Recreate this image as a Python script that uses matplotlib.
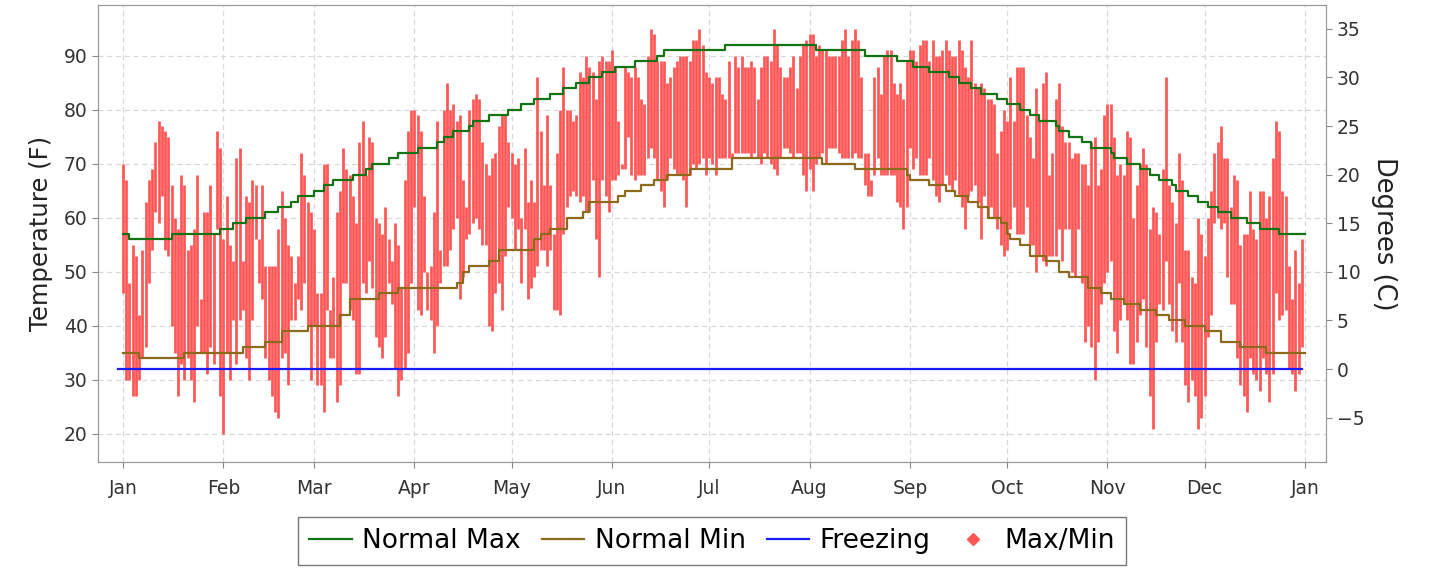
'''Daily max/min temperatures against normals, with a Celsius twin axis'''

import numpy as np
import matplotlib
matplotlib.use('Agg')
import matplotlib.pyplot as plt
from matplotlib.lines import Line2D

months = ['Jan', 'Feb', 'Mar', 'Apr', 'May', 'Jun', 'Jul', 'Aug', 'Sep',
          'Oct', 'Nov', 'Dec', 'Jan']
month_starts = [0, 31, 59, 90, 120, 151, 181, 212, 243, 273, 304, 334, 365]

# daily highs / lows (F)
jan_hi = [70, 67, 48, 55, 53, 42, 54, 63, 67, 69, 74, 78, 77, 76, 75, 66, 60, 58, 68, 66,
          54, 55, 58, 68, 45, 61, 61, 66, 57, 76, 73]
jan_lo = [46, 30, 30, 27, 27, 30, 34, 36, 48, 54, 61, 59, 64, 54, 53, 40, 35, 27, 33, 30,
          34, 30, 26, 40, 35, 35, 31, 36, 33, 58, 27]
feb_hi = [56, 64, 55, 52, 71, 73, 52, 64, 63, 67, 66, 56, 66, 51, 51, 51, 51, 58, 65, 60,
          55, 53, 48, 53, 72, 68, 63, 61]
feb_lo = [20, 35, 30, 41, 33, 41, 43, 34, 30, 41, 56, 48, 45, 34, 30, 27, 24, 23, 34, 35,
          29, 41, 41, 45, 43, 48, 40, 30]
mar_hi = [58, 46, 46, 70, 70, 43, 49, 61, 65, 73, 69, 68, 64, 59, 74, 78, 68, 75, 74, 60,
          59, 57, 62, 56, 52, 59, 55, 47, 67, 76, 80]
mar_lo = [40, 29, 29, 24, 43, 34, 34, 26, 29, 48, 48, 43, 41, 31, 31, 48, 46, 52, 47, 38,
          36, 34, 38, 48, 44, 32, 27, 30, 32, 35, 48]
apr_hi = [80, 79, 76, 64, 50, 51, 61, 78, 54, 80, 85, 80, 81, 78, 79, 67, 62, 80, 82, 83,
          82, 74, 70, 68, 71, 72, 77, 79, 79, 74]
apr_lo = [62, 43, 42, 50, 43, 41, 35, 40, 48, 51, 51, 54, 58, 60, 45, 49, 56, 57, 59, 60,
          58, 55, 55, 40, 39, 46, 48, 43, 53, 62]
may_hi = [72, 70, 71, 60, 73, 63, 67, 63, 86, 76, 66, 79, 66, 57, 72, 80, 88, 80, 80, 78,
          79, 87, 86, 90, 88, 87, 82, 89, 90, 89, 89]
may_lo = [60, 54, 58, 48, 58, 45, 47, 49, 51, 54, 54, 51, 54, 43, 43, 42, 57, 62, 64, 65,
          64, 63, 64, 61, 61, 67, 56, 49, 67, 64, 61]
jun_hi = [91, 88, 78, 69, 88, 87, 86, 88, 86, 82, 81, 90, 95, 94, 89, 89, 89, 85, 86, 88,
          89, 90, 90, 90, 89, 93, 93, 95, 92, 87]
jun_lo = [67, 67, 68, 70, 69, 75, 68, 67, 68, 68, 68, 71, 73, 71, 67, 65, 62, 67, 71, 69,
          68, 68, 67, 62, 68, 70, 69, 70, 71, 68]
jul_hi = [86, 85, 86, 86, 83, 82, 89, 72, 90, 88, 90, 88, 88, 89, 88, 82, 88, 90, 90, 89,
          95, 92, 88, 86, 86, 88, 90, 84, 90, 92, 93]
jul_lo = [71, 70, 68, 71, 71, 71, 71, 71, 72, 72, 72, 72, 72, 71, 72, 71, 70, 72, 71, 70,
          69, 68, 71, 73, 73, 72, 71, 72, 72, 68, 65]
aug_hi = [94, 94, 90, 92, 91, 91, 90, 90, 90, 90, 93, 95, 90, 93, 95, 93, 86, 72, 72, 67,
          86, 88, 83, 90, 91, 91, 85, 83, 85, 82, 89]
aug_lo = [69, 65, 70, 71, 72, 70, 73, 73, 73, 72, 71, 71, 71, 71, 72, 71, 71, 66, 64, 64,
          68, 71, 68, 68, 68, 68, 68, 63, 62, 58, 62]
sep_hi = [91, 91, 89, 92, 93, 93, 89, 93, 90, 90, 91, 93, 91, 90, 90, 93, 91, 88, 86, 93,
          85, 84, 85, 84, 82, 82, 81, 72, 76, 80]
sep_lo = [73, 69, 71, 68, 68, 68, 71, 67, 64, 63, 66, 68, 66, 65, 67, 64, 62, 58, 64, 65,
          66, 63, 56, 64, 60, 62, 60, 58, 55, 53]
oct_hi = [78, 86, 78, 88, 88, 88, 79, 75, 71, 84, 78, 85, 87, 68, 72, 82, 85, 77, 74, 74,
          71, 72, 72, 70, 70, 66, 74, 75, 66, 69, 79]
oct_lo = [54, 58, 62, 57, 57, 57, 62, 55, 55, 50, 53, 52, 51, 53, 53, 53, 58, 52, 58, 58,
          50, 49, 58, 48, 37, 40, 36, 30, 37, 44, 48]
nov_hi = [81, 81, 75, 68, 70, 68, 76, 75, 60, 66, 70, 73, 70, 58, 62, 61, 57, 69, 86, 66,
          63, 59, 72, 67, 54, 54, 49, 48, 60, 57]
nov_lo = [50, 52, 39, 35, 41, 44, 41, 33, 33, 37, 42, 45, 36, 27, 21, 37, 44, 43, 52, 44,
          39, 37, 48, 37, 29, 26, 30, 27, 21, 23]
dec_hi = [53, 60, 65, 72, 74, 77, 71, 71, 62, 68, 67, 55, 57, 57, 65, 58, 56, 65, 65, 60,
          64, 71, 78, 76, 65, 64, 51, 45, 54, 48, 56]
dec_lo = [27, 38, 42, 59, 60, 58, 59, 49, 44, 44, 34, 29, 27, 24, 34, 31, 30, 28, 34, 31,
          26, 31, 46, 41, 42, 43, 32, 31, 28, 31, 36]

# normals: day of year where each step starts, and its value (F)
nmax_days = [0, 2, 15, 30, 34, 38, 44, 48, 52, 54, 59, 62, 65, 71, 75, 77, 82, 85, 91, 97,
             99, 102, 107, 108, 113, 119, 123, 127, 132, 136, 140, 144, 148, 152, 158, 165,
             167, 186, 214, 229, 239, 244, 249, 255, 258, 262, 265, 270, 273, 277, 280, 283,
             288, 289, 292, 296, 299, 305, 306, 310, 314, 317, 320, 324, 325, 329, 332, 335,
             338, 342, 347, 351, 357, 365]
nmax_vals = [57, 56, 57, 58, 59, 60, 61, 62, 63, 64, 65, 66, 67, 68, 69, 70, 71, 72, 73, 74,
             75, 76, 77, 78, 79, 80, 81, 82, 83, 84, 85, 86, 87, 88, 89, 90,
             91, 92, 91, 90, 89, 88, 87, 86, 85, 84, 83, 82, 81, 80, 79, 78,
             77, 76, 75, 74, 73, 72, 71, 70, 69, 68, 67, 66, 65, 64, 63, 62,
             61, 60, 59, 58, 57, 57]
nmin_days = [0, 5, 19, 37, 44, 49, 57, 67, 70, 79, 85, 103, 105, 107, 113, 116, 127, 129,
             132, 137, 142, 144, 153, 155, 160, 164, 168, 175, 188, 216, 226, 242, 243, 249,
             254, 257, 261, 264, 267, 271, 273, 274, 277, 280, 285, 289, 292, 298, 302, 305,
             309, 314, 319, 323, 328, 334, 339, 345, 353, 365]
nmin_vals = [35, 34, 35, 36, 37, 39, 40, 42, 45, 46, 47, 48, 50, 51, 52, 54, 56, 57,
             58, 60, 61, 63, 64, 65, 66, 67, 68, 69, 71, 70, 69, 68, 67, 66,
             65, 64, 63, 62, 60, 59, 57, 56, 55, 53, 52, 50, 49, 47, 46, 45,
             44, 43, 42, 41, 40, 39, 37, 36, 35, 35]
freezing = 32


def f_to_c(f):
    return (np.asarray(f) - 32) * 5.0 / 9.0


if __name__ == "__main__":
    highs = np.array(jan_hi + feb_hi + mar_hi + apr_hi + may_hi + jun_hi +
                     jul_hi + aug_hi + sep_hi + oct_hi + nov_hi + dec_hi)
    lows = np.array(jan_lo + feb_lo + mar_lo + apr_lo + may_lo + jun_lo +
                    jul_lo + aug_lo + sep_lo + oct_lo + nov_lo + dec_lo)
    days = np.arange(len(highs))

    fig = plt.figure(figsize=(14.33, 5.68), dpi=100)
    ax = fig.add_axes([0.0684, 0.1866, 0.857, 0.8046])
    ylim = (14.8, 99.4)

    ax.vlines(days, lows, highs, color='#ff5555', linewidth=1.95, zorder=2)
    ax.step(nmax_days, nmax_vals, where='post', color='#137213', linewidth=1.6, zorder=3)
    ax.step(nmin_days, nmin_vals, where='post', color='#8c6a1c', linewidth=1.6, zorder=3)
    ax.plot([-1.5, 364], [freezing, freezing], color='#1a1aff', linewidth=1.6, zorder=3)

    ax.set_xlim(-7.7, 371.5)
    ax.set_ylim(*ylim)
    ax.set_xticks(month_starts)
    ax.set_xticklabels(months)
    ax.set_yticks(range(20, 100, 10))
    ax.grid(True, color='#d8d8d8', linestyle=(0, (4, 3)), linewidth=0.9)
    ax.set_axisbelow(True)
    ax.set_ylabel('Temperature (F)', fontsize=17.5, color='#222222', labelpad=8)

    ax2 = ax.twinx()
    ax2.set_ylim(f_to_c(ylim[0]), f_to_c(ylim[1]))
    ax2.set_yticks(range(-5, 40, 5))
    ax2.set_ylabel('Degrees (C)', fontsize=18.5, rotation=270, labelpad=24, color='#222222')

    for a in (ax, ax2):
        a.tick_params(labelsize=13.5, colors='#333333', length=4, color='#888888')
        for s in a.spines.values():
            s.set_color('#999999')
    ax.tick_params(axis='x', pad=8)

    handles = [Line2D([], [], color='#137213', lw=1.6),
               Line2D([], [], color='#8c6a1c', lw=1.6),
               Line2D([], [], color='#1a1aff', lw=1.6),
               Line2D([], [], color='#ff5555', lw=0, marker='D', markersize=6)]
    leg = fig.legend(handles, ['Normal Max', 'Normal Min', 'Freezing', 'Max/Min'],
                     loc='center', bbox_to_anchor=(0.497, 0.0475), ncol=4,
                     fontsize=19, frameon=True, fancybox=False, handlelength=1.6,
                     handletextpad=0.4, columnspacing=0.8, borderpad=0.42)
    leg.get_frame().set_edgecolor('#555555')
    leg.get_frame().set_linewidth(1.0)

    fig.savefig('out.png', dpi=100)
